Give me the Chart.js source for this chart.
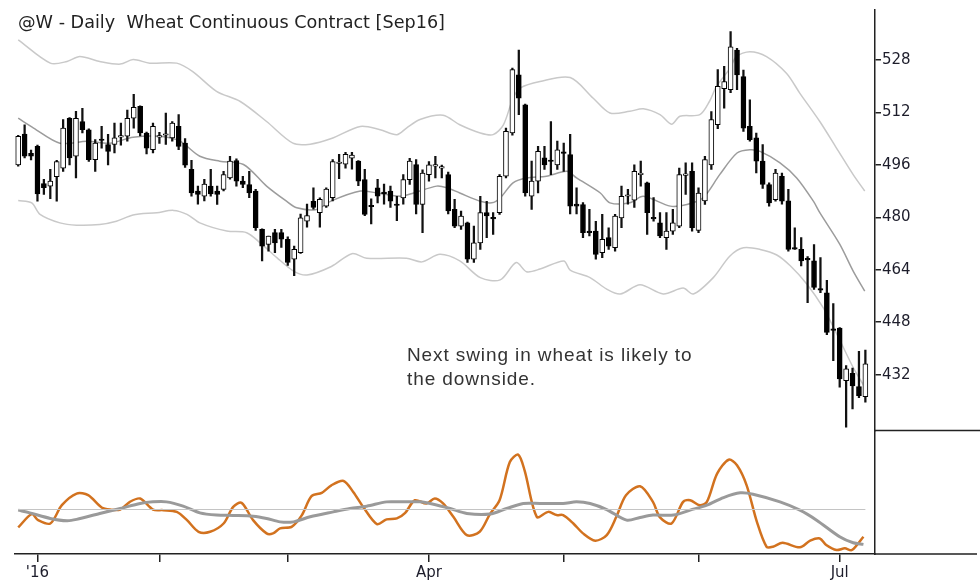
<!DOCTYPE html>
<html>
<head>
<meta charset="utf-8">
<script src="https://cdn.jsdelivr.net/npm/chart.js@4/dist/chart.umd.min.js"></script>
<style>
  html, body { margin: 0; padding: 0; background: #fff; }
  #wrap { position: relative; width: 980px; height: 584px; }
  #title { position: absolute; left: 18px; top: 13px; font-family: "DejaVu Sans", sans-serif; font-size: 18px; line-height: 1; color: #222; white-space: pre; transform-origin: 0 0; }
  #note { position: absolute; left: 407px; top: 343px; font-family: "Liberation Sans", Arial, sans-serif; font-size: 19px; letter-spacing: 0.9px; line-height: 23.5px; color: #333; white-space: pre; }
</style>
</head>
<body>
<div id="wrap">
  <canvas id="chart" width="980" height="584"></canvas>
  <div id="title">@W - Daily  Wheat Continuous Contract [Sep16]</div>
  <div id="note">Next swing in wheat is likely to<br>the downside.</div>
</div>
<script>
// daily sessions, Dec 29 2015 .. Jul 8 2016 (index 0..132)
const open = [
  496.0, 505.4, 499.5, 501.6, 490.3, 489.5, 492.4, 495.0, 510.2, 498.6,
  509.2, 506.7, 497.6, 503.8, 502.2, 502.2, 504.4, 504.7, 510.2, 513.8,
  505.7, 500.6, 504.4, 505.0, 504.2, 507.7, 502.6, 494.6, 488.0, 486.4,
  489.5, 488.0, 488.5, 492.0, 497.3, 491.0, 490.0, 488.0, 476.3, 471.7,
  475.3, 475.3, 473.3, 467.2, 469.2, 478.8, 484.9, 481.4, 483.4, 486.0,
  496.4, 496.2, 498.0, 497.1, 491.5, 483.4, 489.0, 487.5, 488.0, 484.0,
  485.9, 491.5, 496.1, 483.9, 493.0, 495.6, 495.0, 493.0, 482.4, 477.3,
  478.3, 467.2, 472.2, 481.4, 479.8, 481.4, 492.5, 505.7, 523.4, 514.3,
  486.4, 491.0, 498.1, 497.3, 496.0, 499.8, 499.1, 484.0, 483.9, 475.6,
  475.8, 469.2, 473.8, 470.7, 479.8, 486.4, 485.2, 493.0, 490.5, 480.0,
  478.3, 473.8, 475.8, 477.3, 492.8, 494.0, 476.0, 485.0, 496.0, 508.2,
  519.2, 518.9, 531.0, 522.9, 507.7, 504.2, 497.1, 490.0, 485.4, 492.5,
  485.0, 470.7, 470.2, 467.4, 466.7, 458.2, 457.0, 445.8, 446.2, 430.2,
  432.4, 428.4, 425.3
];
const high = [
  505.0, 508.2, 500.5, 502.0, 491.6, 494.6, 497.4, 509.8, 510.4, 512.3,
  513.2, 507.0, 503.7, 507.7, 505.3, 508.7, 508.7, 512.7, 517.5, 514.0,
  506.0, 508.7, 505.9, 511.8, 509.2, 511.3, 504.0, 497.4, 489.5, 491.6,
  494.6, 489.5, 494.0, 498.6, 497.8, 492.5, 494.0, 488.5, 476.5, 474.3,
  476.3, 476.3, 474.0, 471.2, 481.0, 484.0, 489.0, 485.9, 489.0, 497.6,
  499.2, 499.8, 499.8, 497.3, 494.6, 485.6, 491.6, 490.1, 489.5, 486.4,
  493.0, 498.0, 497.6, 494.5, 497.0, 498.6, 495.9, 493.8, 485.5, 481.9,
  478.5, 477.3, 486.4, 484.9, 481.4, 493.0, 507.2, 525.5, 531.0, 514.5,
  497.1, 501.6, 501.6, 509.2, 503.2, 502.6, 505.3, 489.0, 484.5, 482.4,
  478.8, 480.9, 476.8, 480.9, 489.5, 488.5, 496.0, 497.1, 490.7, 486.0,
  481.4, 481.4, 482.4, 495.0, 496.6, 496.6, 489.0, 498.6, 512.2, 525.0,
  526.0, 536.6, 531.5, 524.9, 515.8, 505.7, 502.2, 490.5, 494.6, 493.5,
  488.5, 476.8, 473.8, 468.0, 471.7, 467.7, 460.8, 453.7, 446.4, 434.8,
  434.0, 439.1, 439.5
];
const low = [
  495.6, 498.1, 497.5, 484.9, 487.0, 485.7, 484.9, 494.0, 496.0, 492.0,
  505.7, 497.0, 494.0, 501.1, 496.0, 499.6, 502.0, 503.2, 507.2, 504.8,
  499.3, 499.6, 502.5, 502.2, 503.2, 500.6, 495.2, 486.4, 484.0, 485.0,
  486.4, 483.9, 488.0, 491.6, 489.5, 489.0, 486.0, 476.0, 466.7, 469.7,
  469.2, 470.8, 465.3, 462.2, 469.0, 477.0, 482.5, 477.0, 483.0, 485.0,
  491.8, 495.0, 494.7, 489.6, 480.5, 478.0, 484.4, 484.0, 483.0, 479.0,
  484.0, 490.0, 481.0, 475.3, 491.0, 492.0, 492.0, 481.0, 476.8, 476.3,
  466.2, 466.2, 470.2, 473.8, 474.8, 480.9, 492.0, 505.0, 511.3, 486.4,
  482.4, 487.4, 494.6, 493.0, 494.6, 494.0, 481.0, 481.0, 473.8, 474.3,
  467.2, 467.7, 470.2, 469.7, 476.8, 484.0, 483.0, 489.5, 474.8, 478.8,
  473.8, 470.2, 474.8, 476.8, 487.0, 475.8, 475.3, 483.9, 494.6, 507.0,
  513.3, 518.0, 518.9, 506.2, 503.2, 493.5, 488.8, 483.4, 484.9, 484.0,
  469.7, 470.2, 465.2, 454.0, 458.0, 457.0, 444.2, 436.3, 428.2, 416.0,
  421.6, 425.0, 423.6
];
const close = [
  504.7, 498.6, 498.6, 487.1, 489.0, 491.0, 497.0, 507.2, 498.1, 510.2,
  506.7, 497.6, 502.6, 503.4, 500.1, 504.2, 504.9, 510.2, 513.5, 505.7,
  501.1, 507.7, 504.9, 505.3, 508.7, 501.6, 495.9, 487.4, 487.0, 490.1,
  487.1, 487.0, 493.0, 497.1, 491.0, 490.0, 487.4, 476.8, 471.2, 474.3,
  472.2, 473.3, 466.2, 470.2, 479.8, 480.5, 483.0, 485.5, 488.6, 497.0,
  496.8, 499.2, 499.0, 491.0, 480.9, 483.2, 486.4, 487.2, 484.9, 483.6,
  491.5, 497.1, 483.9, 493.5, 496.0, 495.9, 495.2, 481.9, 477.3, 480.4,
  467.2, 472.2, 481.4, 480.4, 479.5, 492.5, 506.2, 525.0, 516.3, 487.4,
  491.0, 500.1, 496.0, 497.0, 500.6, 499.5, 483.4, 483.4, 475.3, 475.3,
  468.7, 473.3, 471.2, 480.4, 486.4, 486.6, 494.0, 493.3, 481.4, 479.5,
  474.3, 475.8, 478.3, 493.0, 493.2, 476.8, 487.4, 497.6, 509.8, 519.9,
  521.4, 532.0, 523.4, 507.2, 503.7, 497.1, 490.0, 484.4, 493.5, 484.9,
  470.2, 470.3, 466.7, 467.0, 458.6, 457.8, 444.9, 445.5, 430.7, 433.8,
  428.6, 425.6, 435.3
];

// envelope around the moving average, as [session, price]
const upperBand = [
  [0, 534.1], [5, 527.0], [7.6, 527.5], [9.6, 529.0], [12.7, 527.5], [15.9, 526.7],
  [17.9, 528.1], [20.5, 527.0], [24.7, 527.0], [27.2, 524.4], [30.9, 518.4], [34.6, 515.3],
  [38.7, 509.2], [42.8, 502.6], [45.5, 502.3], [48.8, 504.0], [53.3, 507.7], [56.4, 506.7],
  [59, 505.2], [60.5, 507.2], [62.6, 509.8], [66.2, 511.1], [68.8, 508.2], [72, 505.7],
  [74, 505.2], [75.6, 508.2], [77.1, 516.3], [78.2, 519.4], [81.3, 521.4], [86, 522.6],
  [89.6, 516.3], [92.2, 511.8], [95.3, 512.3], [97.4, 513.1], [100, 511.3], [101.8, 508.4],
  [103.1, 510.8], [106.2, 511.3], [107.7, 515.3], [108.8, 519.9], [110.9, 525.4], [111.9, 529.0],
  [114, 530.5], [116.6, 529.0], [119.7, 523.9], [121.8, 517.8], [124.9, 509.2], [127.5, 501.1],
  [130.1, 493.0], [131.9, 488.0]
];
const midBand = [
  [0, 510.2], [2.4, 507.2], [6.5, 502.6], [10.7, 503.2], [14.3, 502.6], [17.9, 504.4],
  [22.1, 504.7], [25.2, 503.2], [28.3, 498.6], [31.4, 497.1], [35.1, 496.1], [38.7, 489.5],
  [41.8, 484.9], [43.4, 482.9], [46.5, 482.4], [48.8, 485.0], [53.3, 488.0], [55.9, 487.4],
  [59.5, 486.4], [61.6, 487.4], [65.2, 489.5], [66.8, 489.0], [68.8, 487.4], [72, 484.9],
  [73.8, 484.4], [75.1, 485.9], [77.1, 490.5], [79.2, 492.0], [82.3, 492.5], [85.5, 494.0],
  [87, 492.0], [90.7, 487.4], [92.2, 484.4], [95.3, 484.4], [97.4, 486.4], [101.6, 483.4],
  [104.2, 483.9], [106.7, 485.9], [109.3, 493.0], [112, 499.6], [114, 500.6], [115.6, 500.1],
  [118.7, 496.6], [121.3, 492.0], [123.9, 484.9], [124.9, 481.4], [128, 471.8], [130.1, 463.6],
  [131.9, 457.5]
];
const lowerBand = [
  [0, 485.1], [2.1, 484.4], [3.4, 480.9], [6.5, 478.3], [9.1, 477.6], [12.7, 477.8],
  [15.3, 478.8], [17.9, 480.7], [21.6, 481.4], [24.2, 482.1], [26.3, 480.9], [28.3, 478.3],
  [32.5, 475.8], [35.6, 475.3], [37.7, 472.2], [40.3, 467.7], [42.9, 463.6], [45, 462.4],
  [48.8, 465.0], [52, 468.9], [54.3, 467.5], [60.5, 467.5], [62.9, 466.4], [65.7, 468.7],
  [68.8, 466.7], [72, 461.6], [75.1, 460.9], [77.6, 466.2], [79.2, 463.4], [81.3, 464.2],
  [85, 466.7], [86, 463.9], [89.1, 461.6], [91.7, 458.1], [93.8, 456.6], [96.9, 459.4],
  [100.5, 456.6], [103.6, 458.4], [105.2, 456.6], [108.3, 461.6], [110.9, 468.2], [113, 470.7],
  [115.6, 470.2], [118.2, 468.5], [120.3, 465.2], [122.9, 459.6], [125.4, 452.5], [127.8, 443.4],
  [130.1, 434.2], [131.9, 428.2]
];

// lower pane oscillator (0..100) and its signal line
const oscFast = [
  [0, 21.5], [2.1, 32.3], [3.1, 27.4], [5, 24.7], [6.8, 39.5], [9.1, 48.9], [10.9, 47.6],
  [13, 37.7], [14.3, 36.0], [15.9, 36.0], [17.4, 42.2], [19, 44.9], [21, 36.0], [22.6, 35.5],
  [24.7, 34.1], [26.3, 27.4], [28.1, 18.0], [29.9, 18.0], [32, 24.7], [33.5, 38.2], [34.8, 41.4],
  [36.6, 27.4], [38.7, 16.7], [39.7, 16.7], [40.8, 20.7], [42.6, 22.0], [44.2, 31.5], [45.7, 46.8],
  [47.3, 49.5], [48.8, 55.6], [50.7, 59.1], [52.2, 50.2], [53.8, 37.7], [55.9, 24.2], [57.4, 28.0],
  [59, 28.8], [60.3, 33.3], [61.8, 43.5], [63.6, 40.9], [64.9, 44.9], [66.2, 40.9], [67.8, 30.1],
  [69.9, 15.3], [71.9, 18.0], [73.5, 32.3], [75, 43.5], [76.6, 74.4], [77.9, 80.4], [78.9, 67.7],
  [80.8, 30.1], [82.6, 34.1], [83.9, 31.5], [84.9, 31.5], [86.5, 24.7], [88, 16.7], [89.9, 10.8],
  [91.7, 15.3], [93.2, 30.1], [94.7, 47.6], [96.9, 54.8], [98.9, 42.2], [100, 29.6], [101.8, 24.7],
  [103.6, 42.2], [104.7, 43.5], [106.2, 39.5], [107.3, 42.2], [108.9, 65.1], [110.7, 76.3],
  [112, 71.8], [113.5, 55.6], [115.1, 26.0], [116.6, 5.9], [117.6, 5.9], [119.1, 9.1],
  [121.8, 5.4], [123.4, 10.8], [124.9, 12.6], [125.9, 7.3], [127.5, 3.2], [128.8, 4.6],
  [129.9, 3.2], [131.7, 14.0]
];
const oscSlow = [
  [0, 35.5], [1.8, 33.3], [5, 28.8], [7.6, 26.9], [9.1, 28.0], [12.7, 32.8], [15.9, 36.8],
  [19, 40.9], [21, 42.2], [23.1, 42.2], [25.7, 38.7], [28.3, 33.3], [30.9, 31.5], [33.5, 31.2],
  [36.6, 30.6], [38.7, 28.8], [40.8, 26.0], [42.9, 26.0], [45.5, 30.1], [49.1, 34.1], [51.7, 36.8],
  [54.3, 38.7], [57.4, 42.2], [59.5, 42.2], [62.6, 42.2], [64.7, 40.3], [67.3, 36.8], [69.9, 32.8],
  [73.5, 32.3], [76.1, 36.8], [78.7, 40.9], [81.3, 40.9], [84.9, 40.9], [87, 42.2], [89.1, 40.9],
  [91.7, 36.0], [94.8, 27.4], [96.9, 29.6], [98.9, 31.5], [102.1, 31.5], [104.7, 35.5],
  [107.3, 39.5], [109.9, 45.7], [112.5, 49.5], [114.5, 48.4], [118.7, 42.2], [121.8, 35.5],
  [124.4, 27.4], [128, 14.0], [130.1, 9.1], [131.7, 7.8]
];
const oscLevel = 36;

const priceTicks = [432, 448, 464, 480, 496, 512, 528];
const monthStarts = [3, 22, 42, 64, 85, 106, 128];   // first session of Jan..Jul
const monthLabels = ["'16", '', '', 'Apr', '', '', 'Jul'];

const sessions = open.map((_, i) => i);
const isUp = sessions.map(i => close[i] >= open[i]);

const axisFont = { family: 'DejaVu Sans', size: 15 };
const ink = '#222';

function curve(points, color, width, axis) {
  return {
    type: 'line',
    data: points.map(([x, y]) => ({ x, y })),
    yAxisID: axis,
    borderColor: color,
    borderWidth: width,
    pointRadius: 0,
    tension: 0.3,
    order: 3
  };
}

// axis separator in the right gutter and the long baseline
const frameLines = {
  id: 'frameLines',
  afterDraw(chart) {
    const { ctx, chartArea, scales } = chart;
    ctx.save();
    ctx.strokeStyle = ink;
    ctx.lineWidth = 1.5;
    ctx.beginPath();
    ctx.moveTo(chartArea.right, scales.osc.top);
    ctx.lineTo(chart.width, scales.osc.top);
    ctx.moveTo(chartArea.right, chartArea.bottom);
    ctx.lineTo(chart.width - 3, chartArea.bottom);
    ctx.stroke();
    ctx.restore();
  }
};

new Chart(document.getElementById('chart'), {
  type: 'bar',
  data: {
    datasets: [
      {
        data: sessions.map(i => ({ x: i, y: [low[i], high[i]] })),
        yAxisID: 'y',
        backgroundColor: '#111',
        borderWidth: 0,
        barThickness: 1.6,
        grouped: false,
        order: 2
      },
      {
        data: sessions.map(i => ({ x: i, y: [open[i], close[i]] })),
        yAxisID: 'y',
        backgroundColor: ctx => (isUp[ctx.dataIndex] ? '#fff' : '#000'),
        borderColor: '#000',
        borderWidth: 1,
        borderSkipped: false,
        barThickness: 5,
        minBarLength: 1.5,
        grouped: false,
        order: 1
      },
      curve(upperBand, '#c9c9c9', 1.5, 'y'),
      curve(lowerBand, '#c9c9c9', 1.5, 'y'),
      curve(midBand, '#9c9c9c', 1.5, 'y'),
      curve([[0, oscLevel], [132, oscLevel]], '#c4c4c4', 1.2, 'osc'),
      curve(oscSlow, '#9a9a9a', 3, 'osc'),
      curve(oscFast, '#d2721f', 2.5, 'osc')
    ]
  },
  options: {
    responsive: false,
    animation: false,
    devicePixelRatio: 1,
    layout: { padding: { left: 15, top: 8, right: 0, bottom: 0 } },
    plugins: { legend: { display: false }, tooltip: { enabled: false } },
    scales: {
      x: {
        type: 'linear',
        min: -0.5,
        max: 133.5,
        offset: false,
        afterBuildTicks: s => { s.ticks = monthStarts.map(v => ({ value: v })); },
        afterFit: s => { s.height = 30; },
        ticks: {
          callback: v => monthLabels[monthStarts.indexOf(v)] || '',
          font: axisFont, color: '#1d1d2b', maxRotation: 0, autoSkip: false, padding: 2
        },
        grid: { drawOnChartArea: false, drawTicks: true, tickLength: 8, color: ink, lineWidth: 1.5, offset: false },
        border: { display: true, color: ink, width: 1.5 }
      },
      y: {
        position: 'right',
        stack: 'panes',
        stackWeight: 422,
        min: 415,
        max: 543.2,
        afterBuildTicks: s => { s.ticks = priceTicks.map(v => ({ value: v })); },
        afterFit: s => { s.width = 105; },
        ticks: { font: axisFont, color: '#1d1d2b', padding: 1, callback: v => String(v) },
        grid: { drawOnChartArea: false, tickLength: 6, color: ink, lineWidth: 1.5 },
        border: { display: true, color: ink, width: 1.5 }
      },
      osc: {
        position: 'right',
        stack: 'panes',
        stackWeight: 124,
        min: 0,
        max: 100,
        afterFit: s => { s.width = 105; },
        ticks: { display: false },
        grid: { display: false },
        border: { display: true, color: ink, width: 1.5 }
      }
    }
  },
  plugins: [frameLines]
});

// squeeze the heading to the width of the original face
const title = document.getElementById('title');
title.style.transform = 'scaleX(' + (427 / title.getBoundingClientRect().width) + ')';
</script>
</body>
</html>
